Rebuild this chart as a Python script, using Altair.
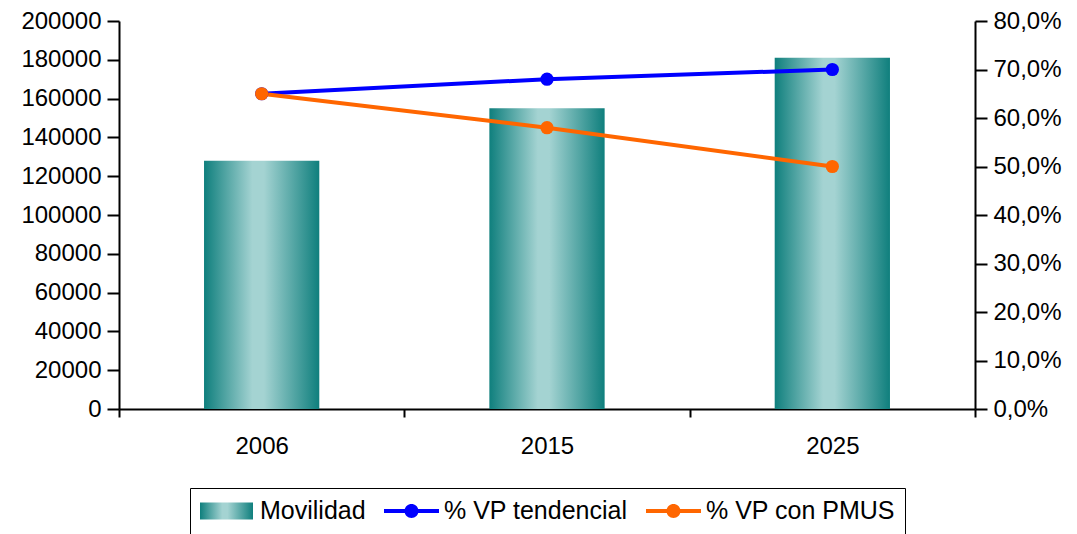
import altair as alt
import pandas as pd

years = ["2006", "2015", "2025"]
movilidad = [128000, 155000, 181000]
vp_tendencial = [0.65, 0.68, 0.70]
vp_pmus = [0.65, 0.58, 0.50]
series = ["Movilidad", "% VP tendencial", "% VP con PMUS"]
left_ticks = list(range(0, 200001, 20000))
right_ticks = [i / 10 for i in range(0, 9)]

FONT = "Liberation Sans"
FS = 24

bars_df = pd.DataFrame({"year": years, "valor": movilidad, "serie": series[0]})
lines_df = pd.DataFrame(
    {
        "year": years * 2,
        "valor": vp_tendencial + vp_pmus,
        "serie": [series[1]] * 3 + [series[2]] * 3,
    }
)
legend_df = pd.DataFrame({"serie": series})

grad_expr = (
    "{gradient: 'linear', x1: 0, y1: 0, x2: 1, y2: 0, stops: ["
    "{offset: 0, color: '#0f7f7d'}, {offset: 0.42, color: '#a4d3d2'}, "
    "{offset: 0.52, color: '#a4d3d2'}, {offset: 1, color: '#0f7f7d'}]}"
)

# legend symbol paths (unit = 13 px, symbol box 26 px)
RECT = "M-1,-0.654H3.077V0.654H-1Z"
LINEP = (
    "M-1,-0.154H3.23V0.154H-1Z"
    "M0.577,0A0.538,0.538 0 1,1 1.654,0A0.538,0.538 0 1,1 0.577,0Z"
)

color_scale = alt.Scale(domain=series, range=[alt.ExprRef(grad_expr), "#0000ff", "#ff6600"])
shape_scale = alt.Scale(domain=series, range=[RECT, LINEP, LINEP])

legend = alt.Legend(
    title=None,
    orient="none",
    legendX=71,
    legendY=467,
    direction="horizontal",
    symbolSize=676,
    symbolStrokeWidth=0,
    symbolOpacity=1,
    labelFont=FONT,
    labelFontSize=25,
    labelColor="black",
    labelLimit=400,
    labelOffset=34,
    columnPadding=18,
    padding=10,
    strokeColor="black",
)

color_enc = alt.Color("serie:N", scale=color_scale, legend=legend)

x_enc = alt.X(
    "year:N",
    sort=years,
    scale=alt.Scale(paddingInner=0, paddingOuter=0),
    axis=alt.Axis(
        title=None,
        labelAngle=0,
        tickBand="extent",
        tickSize=8,
        labelPadding=17,
        domainColor="black",
        domainWidth=2,
        tickColor="black",
        tickWidth=2,
        labelFont=FONT,
        labelFontSize=FS,
        labelColor="black",
    ),
)

legend_pts = alt.Chart(legend_df).mark_point(filled=True, opacity=0).encode(
    color=color_enc,
    shape=alt.Shape("serie:N", scale=shape_scale, legend=legend),
)

bars = alt.Chart(bars_df).mark_bar(width=alt.RelativeBandSize(0.404)).encode(
    x=x_enc,
    y=alt.Y(
        "valor:Q",
        scale=alt.Scale(domain=[0, 200000], nice=False),
        axis=alt.Axis(
            title=None,
            orient="left",
            values=left_ticks,
            format="d",
            grid=False,
            tickSize=12,
            labelPadding=6,
            domainColor="black",
            domainWidth=2,
            tickColor="black",
            tickWidth=2,
            labelFont=FONT,
            labelFontSize=FS,
            labelColor="black",
        ),
    ),
    color=color_enc,
)

y_right = alt.Y(
    "valor:Q",
    scale=alt.Scale(domain=[0, 0.8], nice=False),
    axis=alt.Axis(
        title=None,
        orient="right",
        values=right_ticks,
        labelExpr="replace(format(datum.value, '.1%'), '.', ',')",
        grid=False,
        tickSize=12,
        labelPadding=6,
        domainColor="black",
        domainWidth=2,
        tickColor="black",
        tickWidth=2,
        labelFont=FONT,
        labelFontSize=FS,
        labelColor="black",
    ),
)

lines = alt.Chart(lines_df).mark_line(strokeWidth=4).encode(
    x=alt.X("year:N", sort=years),
    y=y_right,
    color=color_enc,
)

pts = alt.Chart(lines_df).mark_point(filled=True, size=175, opacity=1).encode(
    x=alt.X("year:N", sort=years),
    y=alt.Y("valor:Q"),
    color=color_enc,
)

line_layer = alt.layer(lines, pts)

chart = (
    alt.layer(legend_pts, bars, line_layer)
    .resolve_scale(y="independent")
    .properties(width=856, height=388, padding={"left": 12, "top": 1, "right": 3, "bottom": 0})
    .configure_view(stroke=None)
)

chart.save("out.html", embed_options={"renderer": "svg", "actions": False})
